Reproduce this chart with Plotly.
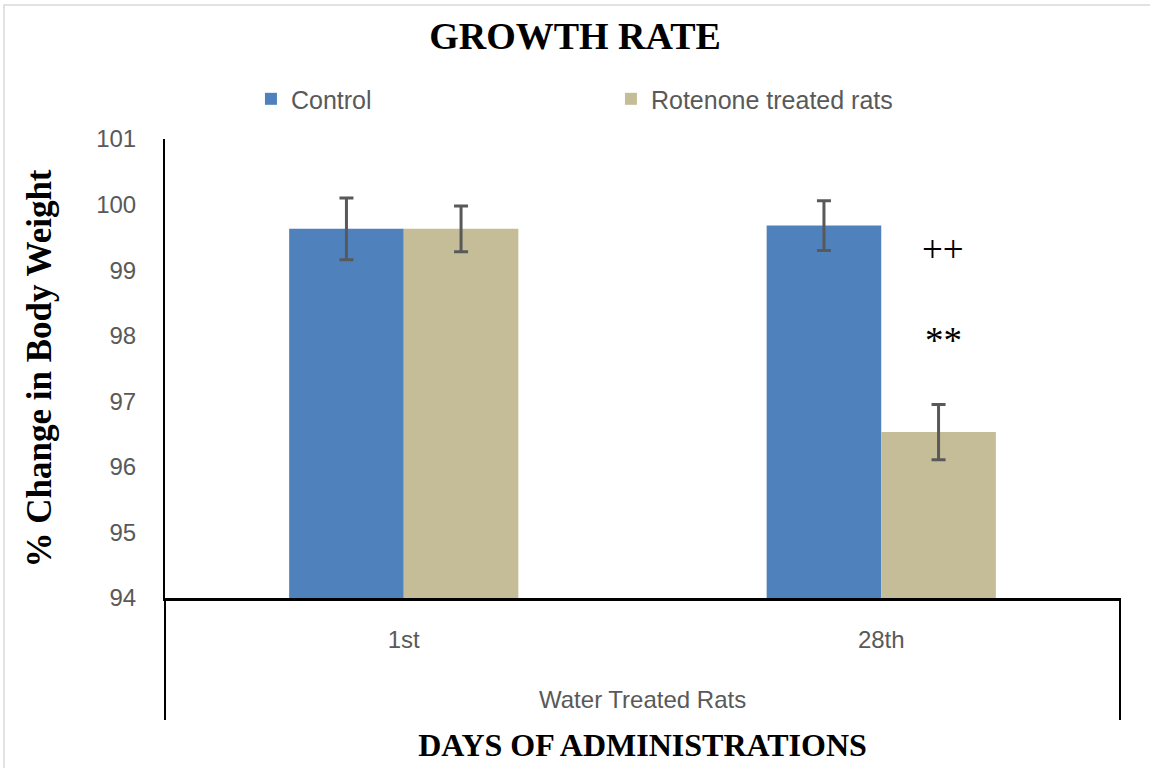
import plotly.graph_objects as go

# Day-of-administration categories and group label
days = ["1st", "28th"]
group_label = "Water Treated Rats"

# % change in body weight (mean) and error (±) per series
control_mean = [99.63, 99.68]
control_err = [0.47, 0.38]
rotenone_mean = [99.63, 96.53]
rotenone_err = [0.35, 0.42]

# Significance marks above the 28th-day rotenone bar
sig_labels = ["++", "**"]
sig_y = [99.31, 97.93]

y_ticks = [94, 95, 96, 97, 98, 99, 100, 101]

BLUE = "#4F81BD"
TAN = "#C4BD97"
ERR = "#595959"
GRAY_TXT = "#595959"
SANS = "Liberation Sans, Arial, sans-serif"
SERIF = "Liberation Serif, Times New Roman, serif"

fig = go.Figure()
fig.add_trace(go.Bar(
    name="Control", x=days, y=control_mean, marker=dict(color=BLUE, line=dict(width=0)),
    error_y=dict(type="data", array=control_err, color=ERR, thickness=3, width=7),
))
fig.add_trace(go.Bar(
    name="Rotenone treated rats", x=days, y=rotenone_mean, marker=dict(color=TAN, line=dict(width=0)),
    error_y=dict(type="data", array=rotenone_err, color=ERR, thickness=3, width=7),
))

annotations = []
for lab, yy in zip(sig_labels, sig_y):
    annotations.append(dict(
        x=1.13, y=yy, xref="x", yref="y", text=lab, showarrow=False,
        font=dict(family=SERIF, size=37, color="#000000"),
        xanchor="center", yanchor="middle",
    ))
annotations.append(dict(
    x=0.5, y=-0.222, xref="paper", yref="paper", text=group_label, showarrow=False,
    font=dict(family=SANS, size=24, color=GRAY_TXT), xanchor="center", yanchor="middle",
))

shapes = [
    # outer light frame
    dict(type="rect", xref="paper", yref="paper", x0=-0.1686, x1=1.2, y0=-0.8, y1=1.292,
         line=dict(color="#D9D9D9", width=1.5), fillcolor="rgba(0,0,0,0)", layer="below"),
    # category-area divider lines below the axis
    dict(type="line", xref="paper", yref="paper", x0=0, x1=0, y0=0, y1=-0.266,
         line=dict(color="#000000", width=2)),
    dict(type="line", xref="paper", yref="paper", x0=1, x1=1, y0=0, y1=-0.266,
         line=dict(color="#000000", width=2)),
]

fig.update_layout(
    width=1150, height=768,
    margin=dict(l=165, r=30, t=139, b=170, autoexpand=False),
    paper_bgcolor="white", plot_bgcolor="white",
    barmode="group", bargap=0.52, bargroupgap=0,
    title=dict(text="<b>GROWTH RATE</b>", x=0.5, xref="container", xanchor="center",
               y=1 - 36 / 768, yref="container", yanchor="middle",
               font=dict(family=SERIF, size=38, color="#000000")),
    legend=dict(orientation="h", x=0.09, xanchor="left", y=1.087, yanchor="middle",
                font=dict(family=SANS, size=25, color=GRAY_TXT),
                entrywidth=315, entrywidthmode="pixels", bgcolor="rgba(0,0,0,0)"),
    xaxis=dict(showline=True, linecolor="#000000", linewidth=2.5, ticks="", showgrid=False,
               zeroline=False, tickfont=dict(family=SANS, size=24, color=GRAY_TXT),
               ticklabelstandoff=18,
               title=dict(text="<b>DAYS OF ADMINISTRATIONS</b>", standoff=83,
                          font=dict(family=SERIF, size=32, color="#000000"))),
    yaxis=dict(range=[94, 101], tickvals=y_ticks, showline=True, linecolor="#000000", linewidth=2,
               ticks="", showgrid=False, zeroline=False,
               tickfont=dict(family=SANS, size=24, color=GRAY_TXT), ticklabelstandoff=22,
               title=dict(text="<b>% Change in Body Weight</b>", standoff=34,
                          font=dict(family=SERIF, size=35, color="#000000"))),
    annotations=annotations, shapes=shapes, showlegend=True,
)

fig.write_html("out.html")
